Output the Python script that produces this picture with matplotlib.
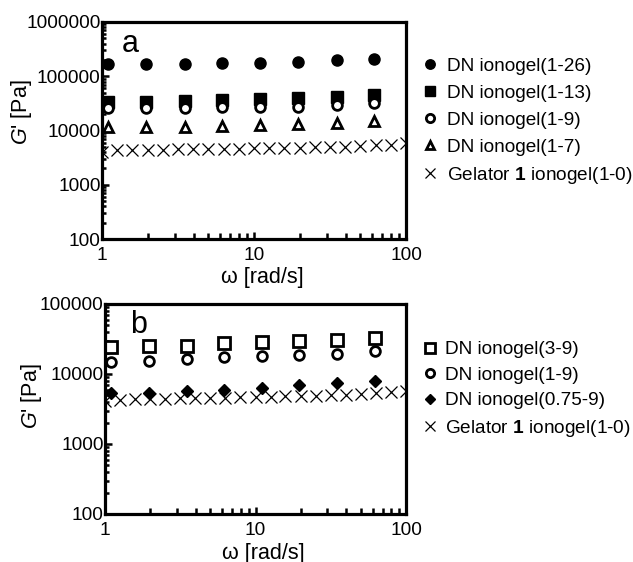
import matplotlib
matplotlib.use("Agg")
import matplotlib.pyplot as plt
import numpy as np

plt.rcParams['font.family'] = ['Liberation Sans', 'DejaVu Sans']
plt.rcParams['mathtext.fontset'] = 'custom'
plt.rcParams['mathtext.rm'] = 'Liberation Sans'
plt.rcParams['mathtext.it'] = 'Liberation Sans:italic'
plt.rcParams['mathtext.bf'] = 'Liberation Sans:bold'

# ---- data ----
freq_dn = [1.1, 1.96, 3.5, 6.2, 11, 19.6, 35, 62]
freq_gel = [1.0, 1.26, 1.58, 2.0, 2.51, 3.16, 3.98, 5.01, 6.31, 7.94, 10,
            12.6, 15.8, 20.0, 25.1, 31.6, 39.8, 50.1, 63.1, 79.4, 100]
gel_1_0 = [4100, 4300, 4350, 4400, 4450, 4500, 4550, 4550, 4600, 4650, 4700,
           4750, 4800, 4850, 4900, 4950, 5050, 5150, 5300, 5450, 5800]

dn_1_26 = [170000, 170000, 170000, 172000, 178000, 186000, 200000, 205000]
dn_1_13 = [34000, 34000, 35000, 36000, 37500, 39000, 42000, 45000]
dn_1_9a = [26000, 26000, 26500, 27000, 27500, 27500, 29500, 31500]
dn_1_7 = [11600, 11700, 11800, 12000, 12600, 13200, 13900, 15200]

dn_3_9 = [24000, 25000, 25500, 28000, 29000, 29500, 31000, 33000]
dn_1_9b = [15000, 15500, 16200, 17300, 18200, 18500, 19500, 21000]
dn_075_9 = [5300, 5400, 5800, 6000, 6350, 6950, 7400, 7950]

labels_a = ["DN ionogel(1-26)", "DN ionogel(1-13)", "DN ionogel(1-9)",
            "DN ionogel(1-7)", r"Gelator $\mathbf{1}$ ionogel(1-0)"]
labels_b = ["DN ionogel(3-9)", "DN ionogel(1-9)", "DN ionogel(0.75-9)",
            r"Gelator $\mathbf{1}$ ionogel(1-0)"]
xticks = [1, 10, 100]
xticklabels = ["1", "10", "100"]
yticks_a = [100, 1000, 10000, 100000, 1000000]
yticks_b = [100, 1000, 10000, 100000]

W, H = 633, 562
fig = plt.figure(figsize=(W / 100, H / 100), dpi=100)

def px_axes(l, t, r, b):
    return fig.add_axes([l / W, 1 - b / H, (r - l) / W, (b - t) / H])

axa = px_axes(102, 22, 406, 239)
axb = px_axes(105, 304, 406, 514)

fs = 13.7
lfs = 15.5
ms = 8
mew = 2

def style(ax, yticks, ylim):
    ax.set_xscale('log')
    ax.set_yscale('log')
    ax.set_xlim(1, 100)
    ax.set_ylim(*ylim)
    ax.set_xticks(xticks)
    ax.set_xticklabels(xticklabels)
    ax.set_yticks(yticks)
    ax.set_yticklabels([str(v) for v in yticks])
    for s in ax.spines.values():
        s.set_linewidth(2.3)
    ax.tick_params(which='both', direction='in', top=False, right=False,
                   labelsize=fs, width=1.8)
    ax.tick_params(axis='y', which='major', length=5, pad=1)
    ax.tick_params(axis='y', which='minor', length=3)
    ax.tick_params(axis='x', which='major', length=5, pad=6)
    ax.tick_params(axis='x', which='minor', length=4)

# panel a
axa.plot(freq_dn, dn_1_26, 'o', color='black', ms=ms, ls='none', label=labels_a[0])
axa.plot(freq_dn, dn_1_13, 's', color='black', ms=ms, ls='none', label=labels_a[1])
axa.plot(freq_dn, dn_1_9a, 'o', mfc='white', mec='black', mew=mew, ms=ms - 1, ls='none', label=labels_a[2])
axa.plot(freq_dn, dn_1_7, '^', mfc='white', mec='black', mew=mew, ms=ms - 1, ls='none', label=labels_a[3])
axa.plot(freq_gel, gel_1_0, 'x', color='black', mew=0.9, ms=9, ls='none', label=labels_a[4])
style(axa, yticks_a, (100, 1000000))
axa.text(0.066, 0.862, 'a', transform=axa.transAxes, fontsize=22)
axa.legend(loc='upper left', bbox_to_anchor=(1.03, 0.87), frameon=False,
           fontsize=fs, handlelength=0.8, handletextpad=0.5,
           labelspacing=0.5, markerscale=0.85, borderaxespad=0)

# panel b
axb.plot(freq_dn, dn_3_9, 's', mfc='white', mec='black', mew=mew, ms=ms, ls='none', label=labels_b[0])
axb.plot(freq_dn, dn_1_9b, 'o', mfc='white', mec='black', mew=mew, ms=ms - 1, ls='none', label=labels_b[1])
axb.plot(freq_dn, dn_075_9, 'D', color='black', ms=6.5, ls='none', label=labels_b[2])
axb.plot(freq_gel, gel_1_0, 'x', color='black', mew=0.9, ms=9, ls='none', label=labels_b[3])
style(axb, yticks_b, (100, 100000))
axb.text(0.083, 0.862, 'b', transform=axb.transAxes, fontsize=22)
axb.legend(loc='upper left', bbox_to_anchor=(1.03, 0.86), frameon=False,
           fontsize=fs, handlelength=0.8, handletextpad=0.4,
           labelspacing=0.43, markerscale=0.85, borderaxespad=0)

# axis labels
fig.text(21 / W, 1 - 112 / H, r"$G$' [Pa]", rotation=90, ha='center', va='center', fontsize=lfs)
fig.text(31 / W, 1 - 396 / H, r"$G$' [Pa]", rotation=90, ha='center', va='center', fontsize=lfs)
fig.text(262 / W, 1 - 277 / H, "ω [rad/s]", ha='center', va='center', fontsize=lfs)
fig.text(263 / W, 1 - 553 / H, "ω [rad/s]", ha='center', va='center', fontsize=lfs)

fig.savefig('out.png', dpi=100)
